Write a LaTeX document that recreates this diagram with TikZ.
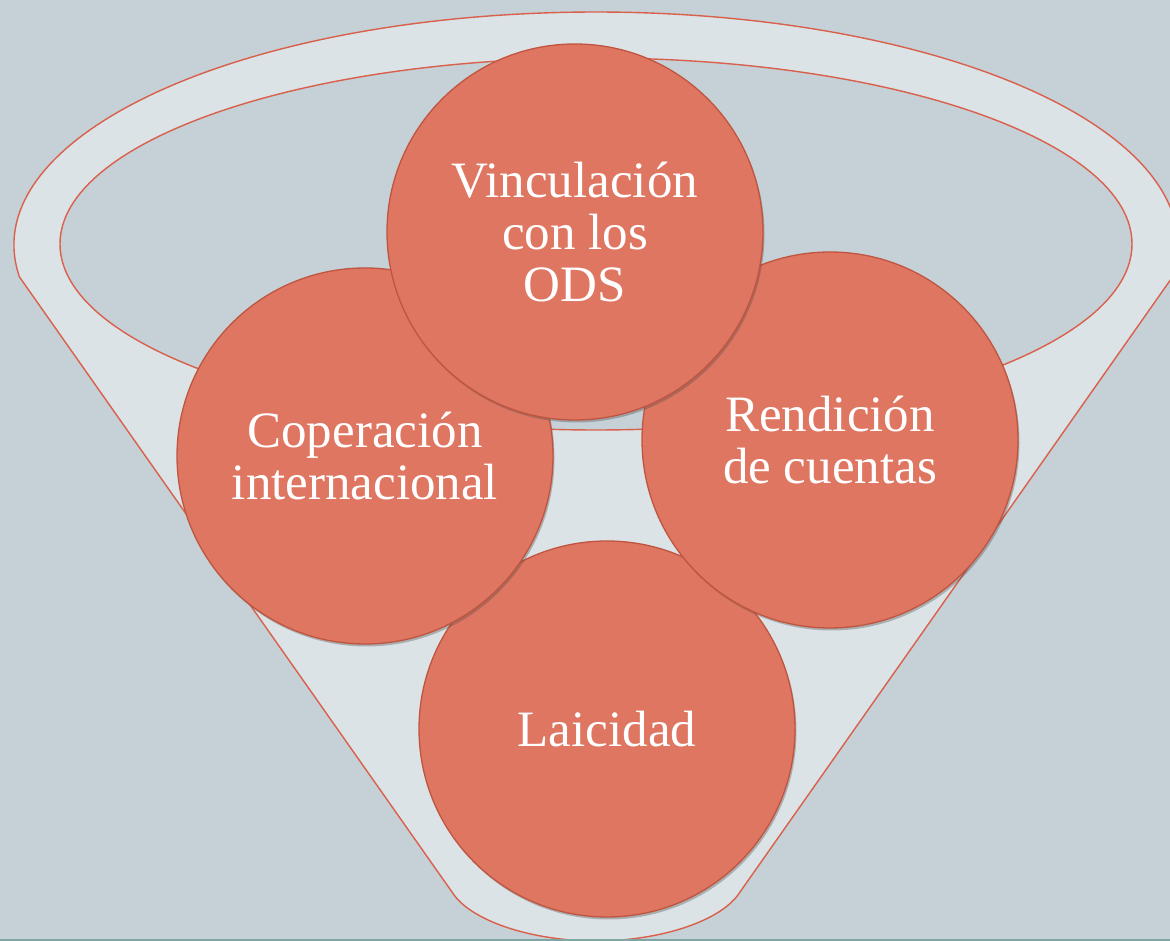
\documentclass[tikz,border=0pt]{standalone}
\usepackage{fontspec}
\setmainfont{Liberation Serif}
\usetikzlibrary{shadows}
\definecolor{bg}{HTML}{C5D0D7}
\definecolor{funnel}{HTML}{DCE3E7}
\definecolor{rim}{HTML}{D9604A}
\definecolor{ball}{HTML}{DF7662}
\definecolor{balledge}{HTML}{C0553F}
\definecolor{teal}{HTML}{7FA6A1}
\tikzset{
  ball/.style={circle, minimum size=376pt, inner sep=0pt, fill=ball, draw=balledge, line width=1.3pt,
    drop shadow={shadow xshift=1.5pt, shadow yshift=-2.5pt, opacity=0.35, fill=black!70},
    text=white, align=center, font=\fontsize{51}{52}\selectfont},
  rimline/.style={draw=rim, line width=1.4pt}
}
\begin{document}
\begin{tikzpicture}[x=1pt,y=1pt]
\useasboundingbox (0,0) rectangle (1170,941);
\fill[bg] (0,0) rectangle (1170,941);
% funnel body
\path[rimline, fill=funnel] (19.5,664) arc[start angle=187.89, end angle=-7.89, x radius=582, y radius=233]
  -- (740,49) .. controls (722,20) and (660,0) .. (596,0)
  .. controls (532,0) and (470,20) .. (452,49) -- cycle;
% inner opening
\path[rimline, fill=bg] (596,697) ellipse[x radius=536, y radius=186];
% circles
\node[ball] (laicidad) at (607,212) {Laicidad};
\node[ball] (coop) at (365,485) {Coperación\\internacional};
\node[ball] (rend) at (830,501) {Rendición\\de cuentas};
\node[ball] (ods) at (575,709) {Vinculación\\con los\\ODS};
\draw[teal, line width=1.5pt] (0,0.75) -- (1170,0.75);
\end{tikzpicture}
\end{document}
